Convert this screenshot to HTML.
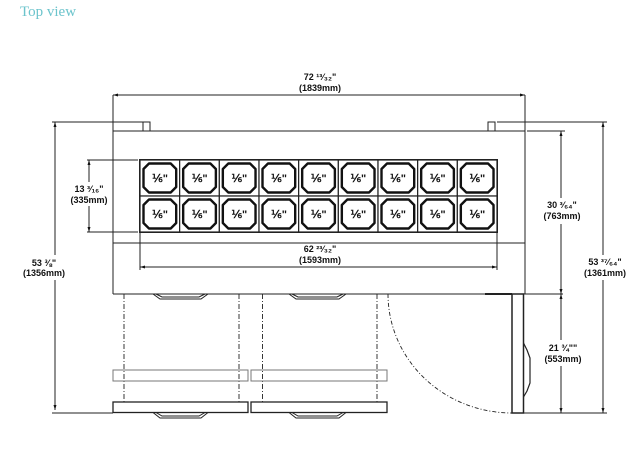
<!DOCTYPE html>
<html><head><meta charset="utf-8"><style>
html,body{margin:0;padding:0;background:#fff;}
svg{display:block;}
.t{font-family:"Liberation Sans",sans-serif;font-weight:bold;font-size:9px;fill:#111;text-anchor:middle;}
.p{font-family:"Liberation Sans",sans-serif;font-weight:bold;font-size:11px;fill:#111;text-anchor:middle;}
</style></head><body>
<svg width="633" height="456" viewBox="0 0 633 456" xmlns="http://www.w3.org/2000/svg">
<defs>
<marker id="a" viewBox="0 0 10 10" refX="10" refY="5" markerWidth="7" markerHeight="5" orient="auto-start-reverse"><path d="M0,2 L10,5 L0,8 z" fill="#111"/></marker>
<g id="cell">
<rect x="0" y="0" width="39.67" height="36" fill="#fff" stroke="#222" stroke-width="1.2"/>
<path d="M9,3.5 H30.7 L36.2,9 V27 L30.7,32.5 H9 L3.5,27 V9 Z" fill="#fff" stroke="#111" stroke-width="2.4" stroke-linejoin="round"/>
</g>
</defs>
<text x="20" y="16" font-family="Liberation Serif,serif" font-size="15" fill="#6cc4cc">Top view</text>

<g stroke="#222" stroke-width="1" fill="none">
<line x1="113" y1="95" x2="113" y2="294"/>
<line x1="525" y1="95" x2="525" y2="294"/>
<line x1="113" y1="131" x2="525" y2="131"/>
<line x1="113" y1="243" x2="525" y2="243"/>
<line x1="113" y1="294" x2="563" y2="294"/>
<line x1="485" y1="294" x2="512" y2="294" stroke-width="2"/>
<path d="M140,131 L143,131 L143,122 L150,122 L150,131 L153,131"/>
<path d="M485,131 L488,131 L488,122 L495,122 L495,131 L498,131"/>
<line x1="113" y1="95" x2="525" y2="95" marker-start="url(#a)" marker-end="url(#a)"/>
<line x1="52" y1="122" x2="143" y2="122"/>
<line x1="55" y1="122" x2="55" y2="255" marker-start="url(#a)"/>
<line x1="55" y1="280" x2="55" y2="410" marker-end="url(#a)"/>
<line x1="52" y1="413" x2="113" y2="413"/>
<line x1="87" y1="160" x2="138" y2="160"/>
<line x1="87" y1="232" x2="138" y2="232"/>
<line x1="89" y1="160" x2="89" y2="182" marker-start="url(#a)"/>
<line x1="89" y1="206" x2="89" y2="232" marker-end="url(#a)"/>
<line x1="140" y1="232" x2="140" y2="270"/>
<line x1="497" y1="232" x2="497" y2="270"/>
<line x1="140" y1="267" x2="497" y2="267" marker-start="url(#a)" marker-end="url(#a)"/>
<line x1="527" y1="131" x2="565" y2="131"/>
<line x1="561" y1="131" x2="561" y2="198" marker-start="url(#a)"/>
<line x1="561" y1="224" x2="561" y2="294" marker-end="url(#a)"/>
<line x1="497" y1="122" x2="607" y2="122"/>
<line x1="603" y1="122" x2="603" y2="255" marker-start="url(#a)"/>
<line x1="603" y1="280" x2="603" y2="413" marker-end="url(#a)"/>
<line x1="523" y1="413" x2="607" y2="413"/>
<line x1="561" y1="294" x2="561" y2="340" marker-start="url(#a)"/>
<line x1="561" y1="366" x2="561" y2="413" marker-end="url(#a)"/>
<rect x="512" y="294" width="11.5" height="119" stroke-width="1.5"/>
<path d="M523.5,343 L527,350 L530,358 L530,383 L527,391 L523.5,397" stroke-width="1.2"/>
<path d="M388,294 A124,119 0 0 0 512,413" stroke-dasharray="4,2,1,2" stroke-width="0.9"/>
<g stroke-dasharray="5,2,1,2" stroke-width="0.9">
<line x1="124" y1="294" x2="124" y2="402"/>
<line x1="239" y1="294" x2="239" y2="402"/>
<line x1="262.5" y1="294" x2="262.5" y2="402"/>
<line x1="377" y1="294" x2="377" y2="402"/>
</g>
<rect x="113" y="370" width="135" height="11" stroke="#777"/>
<rect x="251" y="370" width="136" height="11" stroke="#777"/>
<rect x="113" y="402" width="135" height="10.5" stroke-width="1.3"/>
<rect x="251" y="402" width="136" height="10.5" stroke-width="1.3"/>
<path d="M153,294 L160,299 L201,299 L208,294 M156,294 L162,297 L199,297 L205,294"/>
<path d="M289,294 L296,299 L339,299 L346,294 M292,294 L298,297 L337,297 L343,294"/>
<path d="M153,412.5 L160,418 L201,418 L208,412.5 M156,412.5 L162,416 L199,416 L205,412.5"/>
<path d="M289,412.5 L296,418 L339,418 L346,412.5 M292,412.5 L298,416 L337,416 L343,412.5"/>
</g>

<rect x="139" y="159" width="359" height="74" fill="#222"/>
<use href="#cell" x="140" y="160"/><use href="#cell" x="179.67" y="160"/><use href="#cell" x="219.33" y="160"/><use href="#cell" x="259" y="160"/><use href="#cell" x="298.67" y="160"/><use href="#cell" x="338.33" y="160"/><use href="#cell" x="378" y="160"/><use href="#cell" x="417.67" y="160"/><use href="#cell" x="457.33" y="160"/>
<use href="#cell" x="140" y="196"/><use href="#cell" x="179.67" y="196"/><use href="#cell" x="219.33" y="196"/><use href="#cell" x="259" y="196"/><use href="#cell" x="298.67" y="196"/><use href="#cell" x="338.33" y="196"/><use href="#cell" x="378" y="196"/><use href="#cell" x="417.67" y="196"/><use href="#cell" x="457.33" y="196"/>
<g class="p">
<text x="160" y="182">⅙"</text><text x="199.7" y="182">⅙"</text><text x="239.3" y="182">⅙"</text><text x="279" y="182">⅙"</text><text x="318.7" y="182">⅙"</text><text x="358.3" y="182">⅙"</text><text x="398" y="182">⅙"</text><text x="437.7" y="182">⅙"</text><text x="477.3" y="182">⅙"</text>
<text x="160" y="218">⅙"</text><text x="199.7" y="218">⅙"</text><text x="239.3" y="218">⅙"</text><text x="279" y="218">⅙"</text><text x="318.7" y="218">⅙"</text><text x="358.3" y="218">⅙"</text><text x="398" y="218">⅙"</text><text x="437.7" y="218">⅙"</text><text x="477.3" y="218">⅙"</text>
</g>

<g class="t">
<text x="320" y="80">72 ¹³⁄₃₂"</text><text x="320" y="91">(1839mm)</text>
<text x="89" y="192">13 ³⁄₁₆"</text><text x="89" y="203">(335mm)</text>
<text x="320" y="252">62 ²³⁄₃₂"</text><text x="320" y="263">(1593mm)</text>
<text x="44" y="266">53 ⅜"</text><text x="44" y="276">(1356mm)</text>
<text x="562" y="208">30 ³⁄₆₄"</text><text x="562" y="219">(763mm)</text>
<text x="605" y="265">53 ³⁷⁄₆₄"</text><text x="605" y="276">(1361mm)</text>
<text x="563" y="351">21 ¾""</text><text x="563" y="362">(553mm)</text>
</g>
</svg>
</body></html>
